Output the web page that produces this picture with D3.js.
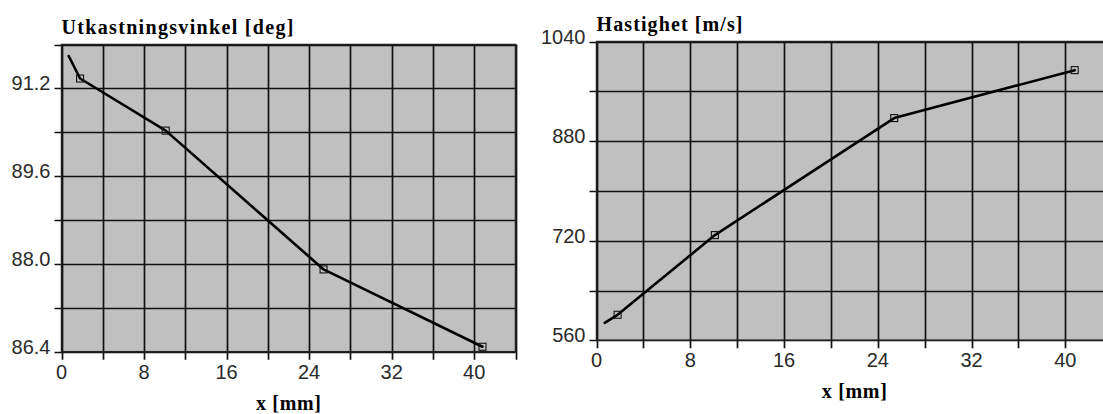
<!DOCTYPE html>
<html>
<head>
<meta charset="utf-8">
<script src="https://cdn.jsdelivr.net/npm/d3@7"></script>
<style>
  html, body { margin: 0; padding: 0; background: #fff; }
  svg { display: block; }
</style>
</head>
<body>
<svg id="chart" width="1103" height="414"></svg>
<script>
// ---- data ----
const xMm = [1.8, 10.1, 25.4, 40.8];               // measured positions [mm]
const angleDeg = [91.38, 90.43, 87.90, 86.49];     // Utkastningsvinkel [deg]
const speedMs = [601, 729, 917, 994];              // Hastighet [m/s]
const curveStartX = 0.7;                            // where the drawn curve starts
const angleCurveStart = 91.79;
const speedCurveStart = 588;

const xTicks = [0, 4, 8, 12, 16, 20, 24, 28, 32, 36, 40, 44];
const xTickLabels = [0, 8, 16, 24, 32, 40];
const angleTicks = [86.4, 87.2, 88.0, 88.8, 89.6, 90.4, 91.2, 92.0];
const angleTickLabels = [86.4, 88.0, 89.6, 91.2];
const speedTicks = [560, 640, 720, 800, 880, 960, 1040];
const speedTickLabels = [560, 720, 880, 1040];

const svg = d3.select("#chart");

function panel(cfg) {
  const g = svg.append("g");
  const x = d3.scaleLinear().domain([0, 44]).range([cfg.left, cfg.right]);
  const y = d3.scaleLinear().domain(cfg.yDomain).range([cfg.bottom, cfg.top]);

  // plot background
  g.append("rect")
    .attr("x", cfg.left).attr("y", cfg.top)
    .attr("width", cfg.right - cfg.left).attr("height", cfg.bottom - cfg.top)
    .attr("fill", "#c0c0c0");

  // grid + ticks (vertical)
  g.append("g").selectAll("line").data(xTicks).join("line")
    .attr("x1", d => Math.round(x(d)) + 0.5).attr("x2", d => Math.round(x(d)) + 0.5)
    .attr("y1", cfg.top).attr("y2", cfg.bottom + 8)
    .attr("stroke", "#111").attr("stroke-width", 1.7);

  // grid + ticks (horizontal)
  g.append("g").selectAll("line").data(cfg.yTicks).join("line")
    .attr("x1", cfg.left - 7).attr("x2", cfg.right)
    .attr("y1", d => Math.round(y(d)) + 0.5).attr("y2", d => Math.round(y(d)) + 0.5)
    .attr("stroke", "#111").attr("stroke-width", 1.7);

  // frame
  g.append("rect")
    .attr("x", cfg.left).attr("y", cfg.top)
    .attr("width", cfg.right - cfg.left).attr("height", cfg.bottom - cfg.top)
    .attr("fill", "none").attr("stroke", "#222").attr("stroke-width", 1.5);

  // x tick labels
  g.append("g").selectAll("text").data(xTickLabels).join("text")
    .attr("x", d => x(d)).attr("y", cfg.bottom + 27)
    .attr("text-anchor", "middle")
    .attr("font-family", "'Liberation Sans', Arial, sans-serif")
    .attr("font-size", 20).attr("fill", "#2a2a2a")
    .text(d => d);

  // y tick labels
  g.append("g").selectAll("text").data(cfg.yTickLabels).join("text")
    .attr("x", cfg.left - 11).attr("y", d => y(d) + 2)
    .attr("text-anchor", "end")
    .attr("font-family", "'Liberation Sans', Arial, sans-serif")
    .attr("font-size", 20).attr("fill", "#2a2a2a")
    .text(d => cfg.fmt(d));

  // title
  g.append("text")
    .attr("x", cfg.left).attr("y", cfg.top - 11)
    .attr("font-family", "'Liberation Serif', 'Times New Roman', serif")
    .attr("font-weight", "bold").attr("font-size", 20).attr("fill", "#000")
    .attr("textLength", cfg.titleWidth).attr("lengthAdjust", "spacing")
    .text(cfg.title);

  // x axis title
  g.append("text")
    .attr("x", (cfg.left + cfg.right) / 2).attr("y", cfg.bottom + 58)
    .attr("text-anchor", "middle")
    .attr("font-family", "'Liberation Serif', 'Times New Roman', serif")
    .attr("font-weight", "bold").attr("font-size", 20).attr("fill", "#000")
    .attr("textLength", 65).attr("lengthAdjust", "spacing")
    .text("x [mm]");

  // curve
  const pts = [[curveStartX, cfg.curveStart]].concat(xMm.map((d, i) => [d, cfg.values[i]]));
  const line = d3.line().x(d => x(d[0])).y(d => y(d[1])).curve(d3.curveLinear);
  g.append("path").datum(pts)
    .attr("d", line)
    .attr("fill", "none").attr("stroke", "#000").attr("stroke-width", 2.6)
    .attr("stroke-linejoin", "round").attr("stroke-linecap", "round");

  // markers (open squares)
  g.append("g").selectAll("rect").data(xMm).join("rect")
    .attr("x", d => x(d) - 3.5)
    .attr("y", (d, i) => y(cfg.values[i]) - 3.5)
    .attr("width", 7).attr("height", 7)
    .attr("fill", "none").attr("stroke", "#111").attr("stroke-width", 1.1);
}

panel({
  left: 61.5, right: 515.5, top: 44.5, bottom: 351.7,
  yDomain: [86.4, 92.0], yTicks: angleTicks, yTickLabels: angleTickLabels,
  fmt: d3.format(".1f"),
  title: "Utkastningsvinkel [deg]", titleWidth: 232,
  values: angleDeg, curveStart: angleCurveStart
});

panel({
  left: 596.5, right: 1112.2, top: 41.5, bottom: 340.3,
  yDomain: [560, 1040], yTicks: speedTicks, yTickLabels: speedTickLabels,
  fmt: d3.format("d"),
  title: "Hastighet [m/s]", titleWidth: 146,
  values: speedMs, curveStart: speedCurveStart
});
</script>
</body>
</html>
